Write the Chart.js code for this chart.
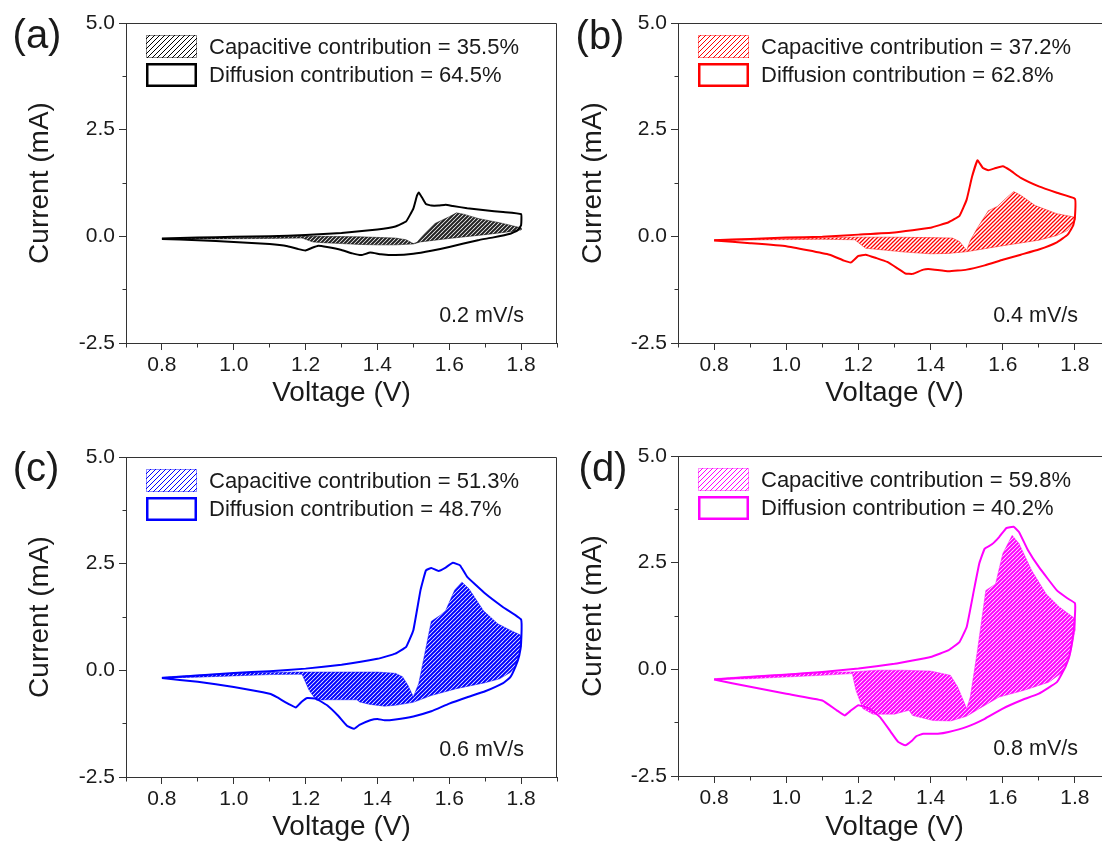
<!DOCTYPE html>
<html>
<head>
<meta charset="utf-8">
<script src="https://cdn.jsdelivr.net/npm/chart.js"></script>
<style>
    html, body { margin: 0; padding: 0; background: #fff; overflow: hidden; width: 1102px; height: 843px; }
    canvas { position: absolute; }
</style>
</head>
<body>
<canvas id="cvA" width="560" height="420" style="left:0;top:0"></canvas>
<canvas id="cvB" width="570" height="420" style="left:551px;top:0"></canvas>
<canvas id="cvC" width="560" height="413" style="left:0;top:430px"></canvas>
<canvas id="cvD" width="570" height="413" style="left:551px;top:430px"></canvas>
<script>
// scan rates (mV/s) and contributions (%)
const scanRates = [0.2, 0.4, 0.6, 0.8];
const capPct = [35.5, 37.2, 51.3, 59.8];
const difPct = [64.5, 62.8, 48.7, 40.2];

// (a) 0.2 mV/s - full CV loop, voltage (V) / current (mA)
const aLoopV = [0.80,0.90,1.00,1.10,1.20,1.30,1.40,1.45,1.48,1.50,1.51,1.515,1.525,1.535,1.55,1.57,1.59,1.61,1.65,1.70,1.75,1.80,1.80,1.79,1.77,1.72,1.68,1.60,1.55,1.50,1.45,1.41,1.38,1.355,1.33,1.30,1.26,1.235,1.215,1.20,1.18,1.15,1.10,1.00,0.90,0.80];
const aLoopI = [-0.05,-0.03,-0.01,0.00,0.03,0.08,0.16,0.23,0.35,0.65,0.95,1.03,0.90,0.76,0.72,0.72,0.74,0.71,0.66,0.61,0.57,0.52,0.26,0.14,0.06,-0.03,-0.09,-0.25,-0.34,-0.41,-0.44,-0.42,-0.38,-0.44,-0.40,-0.32,-0.25,-0.22,-0.28,-0.33,-0.30,-0.23,-0.18,-0.13,-0.09,-0.06];
// (a) capacitive part
const aCapV = [0.80,0.95,1.10,1.18,1.25,1.35,1.45,1.48,1.50,1.51,1.53,1.56,1.60,1.62,1.64,1.68,1.74,1.79,1.80,1.80,1.78,1.70,1.60,1.52,1.50,1.45,1.40,1.35,1.30,1.25,1.22,1.19,1.10,0.95,0.80];
const aCapI = [-0.05,-0.04,-0.02,0.00,0.00,-0.01,-0.04,-0.08,-0.17,-0.14,0.05,0.30,0.46,0.55,0.52,0.42,0.32,0.22,0.20,0.15,0.12,0.04,-0.05,-0.13,-0.18,-0.20,-0.20,-0.19,-0.17,-0.15,-0.13,-0.04,-0.05,-0.06,-0.06];

// (b) 0.4 mV/s
const bLoopV = [0.80,0.90,1.00,1.10,1.20,1.30,1.40,1.45,1.48,1.50,1.515,1.53,1.545,1.56,1.58,1.60,1.62,1.65,1.70,1.75,1.80,1.80,1.795,1.78,1.75,1.70,1.65,1.60,1.55,1.50,1.45,1.40,1.38,1.35,1.33,1.31,1.28,1.25,1.22,1.20,1.18,1.16,1.12,1.00,0.90,0.80];
const bLoopI = [-0.09,-0.06,-0.03,-0.01,0.04,0.09,0.20,0.33,0.48,0.86,1.40,1.78,1.60,1.55,1.60,1.64,1.55,1.37,1.17,1.02,0.88,0.45,0.25,0.04,-0.14,-0.31,-0.43,-0.55,-0.68,-0.78,-0.82,-0.77,-0.78,-0.88,-0.87,-0.76,-0.60,-0.51,-0.43,-0.46,-0.61,-0.57,-0.43,-0.23,-0.16,-0.10];
const bCapV = [0.80,0.95,1.10,1.18,1.30,1.40,1.46,1.48,1.50,1.51,1.53,1.56,1.585,1.61,1.63,1.65,1.69,1.75,1.80,1.80,1.78,1.75,1.70,1.60,1.55,1.50,1.45,1.40,1.33,1.27,1.22,1.19,1.10,0.95,0.80];
const bCapI = [-0.08,-0.06,-0.04,-0.02,-0.02,-0.03,-0.04,-0.12,-0.33,-0.10,0.20,0.60,0.70,0.90,1.05,0.96,0.72,0.53,0.45,0.38,0.14,0.02,-0.09,-0.22,-0.29,-0.36,-0.40,-0.41,-0.37,-0.32,-0.28,-0.08,-0.07,-0.08,-0.10];

// (c) 0.6 mV/s
const cLoopV = [0.80,0.90,1.00,1.10,1.20,1.30,1.40,1.45,1.48,1.50,1.52,1.535,1.55,1.57,1.59,1.61,1.63,1.65,1.70,1.75,1.80,1.80,1.795,1.785,1.77,1.75,1.70,1.65,1.60,1.55,1.50,1.45,1.42,1.40,1.38,1.35,1.335,1.315,1.29,1.26,1.23,1.205,1.19,1.173,1.155,1.12,1.10,1.00,0.90,0.80];
const cLoopI = [-0.18,-0.12,-0.06,-0.02,0.04,0.13,0.27,0.39,0.55,0.94,1.88,2.34,2.40,2.33,2.41,2.52,2.46,2.19,1.80,1.48,1.19,0.63,0.35,0.10,-0.16,-0.30,-0.49,-0.63,-0.78,-0.96,-1.08,-1.15,-1.17,-1.14,-1.17,-1.28,-1.37,-1.30,-1.06,-0.82,-0.67,-0.65,-0.73,-0.87,-0.80,-0.63,-0.55,-0.39,-0.27,-0.18];
const cCapV = [0.80,0.90,1.00,1.10,1.18,1.30,1.40,1.45,1.47,1.485,1.50,1.515,1.53,1.55,1.575,1.59,1.615,1.635,1.655,1.695,1.735,1.77,1.80,1.80,1.785,1.77,1.74,1.70,1.62,1.55,1.50,1.45,1.42,1.38,1.35,1.343,1.30,1.26,1.23,1.21,1.19,1.10,1.00,0.90,0.80];
const cCapI = [-0.16,-0.11,-0.07,-0.05,-0.04,-0.04,-0.04,-0.07,-0.15,-0.35,-0.62,-0.31,0.31,1.15,1.29,1.40,1.88,2.07,1.91,1.40,1.09,0.94,0.82,0.55,0.10,-0.05,-0.20,-0.29,-0.43,-0.59,-0.75,-0.82,-0.84,-0.80,-0.74,-0.69,-0.69,-0.69,-0.70,-0.47,-0.09,-0.10,-0.13,-0.16,-0.18];

// (d) 0.8 mV/s
const dLoopV = [0.80,0.90,1.00,1.10,1.20,1.30,1.40,1.45,1.48,1.50,1.52,1.535,1.55,1.57,1.59,1.61,1.63,1.645,1.67,1.70,1.75,1.78,1.80,1.80,1.795,1.787,1.775,1.75,1.70,1.65,1.60,1.55,1.50,1.45,1.42,1.38,1.36,1.35,1.33,1.31,1.29,1.26,1.23,1.20,1.18,1.162,1.14,1.10,1.00,0.90,0.80];
const dLoopI = [-0.24,-0.18,-0.125,-0.06,0.02,0.13,0.29,0.45,0.64,0.99,1.85,2.48,2.83,2.93,3.10,3.31,3.34,3.22,2.79,2.40,1.85,1.66,1.55,1.25,0.80,0.40,0.08,-0.30,-0.57,-0.73,-0.92,-1.16,-1.35,-1.47,-1.51,-1.51,-1.57,-1.66,-1.78,-1.70,-1.47,-1.12,-0.92,-0.84,-0.96,-1.08,-0.96,-0.73,-0.57,-0.41,-0.24];
const dCapV = [0.80,0.90,1.00,1.10,1.18,1.25,1.32,1.40,1.455,1.475,1.50,1.51,1.53,1.553,1.58,1.60,1.626,1.645,1.68,1.72,1.757,1.80,1.80,1.786,1.767,1.728,1.66,1.59,1.543,1.50,1.456,1.407,1.35,1.34,1.30,1.24,1.212,1.193,1.183,1.10,1.00,0.90,0.80];
const dCapI = [-0.22,-0.16,-0.11,-0.07,-0.06,-0.02,-0.02,-0.04,-0.14,-0.41,-0.92,-0.65,0.45,1.85,2.00,2.71,3.14,2.95,2.32,1.77,1.46,1.19,0.91,0.29,-0.06,-0.30,-0.49,-0.65,-0.88,-1.10,-1.21,-1.20,-1.08,-0.96,-1.05,-1.05,-0.92,-0.49,-0.10,-0.14,-0.18,-0.22,-0.24];

const FONT = 'Arial, "Liberation Sans", Helvetica, sans-serif';
const TEXT = '#1a1a1a';
const AXIS = '#333333';

function toXY(vs, is) {
    return vs.map((v, i) => ({ x: v, y: is[i] }));
}

// diagonal "////" hatch
function hatch(color, lw, size) {
    const c = document.createElement('canvas');
    c.width = size;
    c.height = size;
    const g = c.getContext('2d');
    g.strokeStyle = color;
    g.lineWidth = lw;
    g.beginPath();
    for (let k = -1; k <= 1; k++) {
        g.moveTo(size * k - 1, size + 1);
        g.lineTo(size * (1 + k) + 1, -1);
    }
    g.stroke();
    return g.createPattern(c, 'repeat');
}

const panels = [
    { id: 'cvA', cx: 0, cy: 0, L: 126, T: 23, R: 559, B: 343, tag: '(a)', tagX: 37, tagY: 37, xPad: 13, yPad: 26,
      color: '#000000', fillColor: '#222222', fillW: 2, edge: 'rgba(0,0,0,0.45)',
      loopV: aLoopV, loopI: aLoopI, capV: aCapV, capI: aCapI, k: 0 },
    { id: 'cvB', cx: 551, cy: 0, L: 678, T: 23, R: 1111, B: 343, tag: '(b)', tagX: 600, tagY: 38, xPad: 13, yPad: 28,
      color: '#ff0000', fillColor: '#ff0000', fillW: 1.3, edge: 'rgba(255,0,0,0.45)',
      loopV: bLoopV, loopI: bLoopI, capV: bCapV, capI: bCapI, k: 1 },
    { id: 'cvC', cx: 0, cy: 430, L: 126, T: 457, R: 559, B: 777, tag: '(c)', tagX: 36, tagY: 470, xPad: 2, yPad: 26,
      color: '#0000ff', fillColor: '#0000ff', fillW: 2, edge: 'rgba(0,0,255,0.45)',
      loopV: cLoopV, loopI: cLoopI, capV: cCapV, capI: cCapI, k: 2 },
    { id: 'cvD', cx: 551, cy: 430, L: 678, T: 456, R: 1111, B: 776, tag: '(d)', tagX: 603, tagY: 470, xPad: 2, yPad: 28,
      color: '#ff00ff', fillColor: '#ff00ff', fillW: 2, edge: 'rgba(255,0,255,0.45)',
      loopV: dLoopV, loopI: dLoopI, capV: dCapV, capI: dCapI, k: 3 }
];

function decor(p) {
    return {
        id: 'decor',
        afterDraw(chart) {
            const g = chart.ctx;
            const a = chart.chartArea;
            g.save();
            // top and right side of the frame
            const t = Math.round(a.top) + 0.5;
            const r = Math.round(a.right) - 0.5;
            g.strokeStyle = AXIS;
            g.lineWidth = 1;
            g.beginPath();
            g.moveTo(a.left, t);
            g.lineTo(r, t);
            g.lineTo(r, a.bottom);
            g.stroke();

            // panel tag
            g.fillStyle = TEXT;
            g.font = '40px ' + FONT;
            g.textAlign = 'center';
            g.textBaseline = 'middle';
            g.fillText(p.tag, p.tagX - p.cx, p.tagY - p.cy);

            // legend
            const bx = a.left + 20;
            const by1 = a.top + 12;
            const by2 = a.top + 40;
            g.fillStyle = hatch(p.color, 1, 5);
            g.fillRect(bx, by1, 51, 23);
            g.strokeStyle = p.edge;
            g.lineWidth = 1;
            g.strokeRect(bx + 0.5, by1 + 0.5, 50, 22);
            g.strokeStyle = p.color;
            g.lineWidth = 2.5;
            g.strokeRect(bx + 1.25, by2 + 1.25, 48.5, 21.5);

            g.fillStyle = TEXT;
            g.font = '22px ' + FONT;
            g.textAlign = 'left';
            g.fillText('Capacitive contribution = ' + capPct[p.k].toFixed(1) + '%', a.left + 83, a.top + 25);
            g.fillText('Diffusion contribution = ' + difPct[p.k].toFixed(1) + '%', a.left + 83, a.top + 53);

            // scan rate
            g.font = '21.5px ' + FONT;
            g.textAlign = 'right';
            g.fillText(scanRates[p.k].toFixed(1) + ' mV/s', a.right - 33, a.bottom - 27);
            g.restore();
        }
    };
}

function makePanel(p) {
    const el = document.getElementById(p.id);
    const w = el.width;
    const h = el.height;
    return new Chart(el, {
        type: 'scatter',
        data: {
            datasets: [{
                data: toXY(p.loopV, p.loopI),
                showLine: true,
                borderColor: p.color,
                borderWidth: 2,
                pointRadius: 0,
                fill: false,
                tension: 0.1
            }, {
                data: toXY(p.capV, p.capI),
                showLine: true,
                borderColor: p.edge,
                borderWidth: 1,
                pointRadius: 0,
                backgroundColor: hatch(p.fillColor, p.fillW, 4),
                fill: 'shape',
                tension: 0
            }]
        },
        options: {
            responsive: false,
            animation: false,
            events: [],
            layout: { padding: { left: 0, top: p.T - p.cy, right: p.cx + w - p.R, bottom: 0 } },
            plugins: {
                legend: { display: false },
                tooltip: { enabled: false }
            },
            scales: {
                x: {
                    type: 'linear',
                    min: 0.7,
                    max: 1.9,
                    afterFit: s => { s.height = p.cy + h - p.B; },
                    border: { color: AXIS, width: 1 },
                    grid: {
                        drawOnChartArea: false,
                        tickLength: 7,
                        tickColor: AXIS,
                        tickWidth: 1,
                        tickBorderDash: c => (c.tick && Math.round(c.tick.value * 10) % 2 !== 0) ? [3.5, 20] : []
                    },
                    ticks: {
                        stepSize: 0.1,
                        autoSkip: false,
                        maxRotation: 0,
                        padding: 3,
                        color: TEXT,
                        font: { family: FONT, size: 21 },
                        callback: v => Math.round(v * 10) % 2 === 0 ? v.toFixed(1) : ''
                    },
                    title: {
                        display: true,
                        text: 'Voltage (V)',
                        color: TEXT,
                        font: { family: FONT, size: 28, lineHeight: 1 },
                        padding: { top: 0, bottom: p.xPad }
                    }
                },
                y: {
                    min: -2.5,
                    max: 5,
                    afterFit: s => { s.width = p.L - p.cx; },
                    border: { color: AXIS, width: 1 },
                    grid: {
                        drawOnChartArea: false,
                        tickLength: 7,
                        tickColor: AXIS,
                        tickWidth: 1,
                        tickBorderDash: c => (c.tick && Math.round(c.tick.value / 1.25) % 2 !== 0) ? [0, 3.5, 3.5, 20] : []
                    },
                    ticks: {
                        stepSize: 1.25,
                        autoSkip: false,
                        padding: 4,
                        color: TEXT,
                        font: { family: FONT, size: 21 },
                        callback: v => Math.round(v / 1.25) % 2 === 0 ? v.toFixed(1) : ''
                    },
                    title: {
                        display: true,
                        text: 'Current (mA)',
                        color: TEXT,
                        font: { family: FONT, size: 28, lineHeight: 1 },
                        padding: { top: p.yPad, bottom: 0 }
                    }
                }
            }
        },
        plugins: [decor(p)]
    });
}

document.addEventListener("DOMContentLoaded", function () {
    panels.forEach(makePanel);
});
</script>
</body>
</html>
